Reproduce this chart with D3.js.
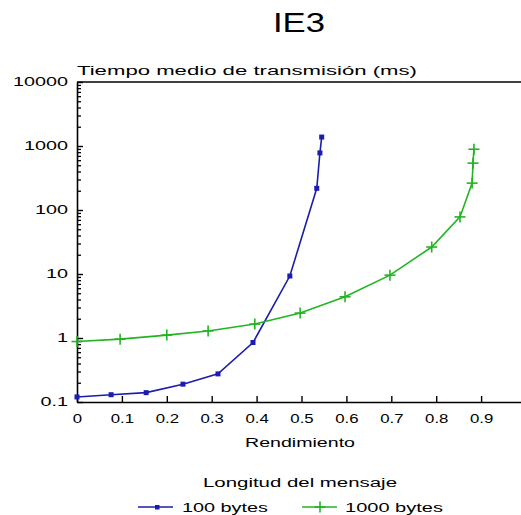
<!DOCTYPE html>
<html>
<head>
<meta charset="utf-8">
<script src="https://cdn.jsdelivr.net/npm/d3@7"></script>
<style>
  body { margin: 0; background: #fff; }
  svg { display: block; }
  text { font-family: "Liberation Sans", Arial, sans-serif; fill: #000; }
</style>
</head>
<body>
<svg id="chart" width="521" height="515"></svg>
<script>
// ---- data ----
const title = "IE3";
const yAxisTitle = "Tiempo medio de transmisión (ms)";
const xAxisTitle = "Rendimiento";
const legendTitle = "Longitud del mensaje";
const seriesNames = ["100 bytes", "1000 bytes"];
const xTicks = [0, 0.1, 0.2, 0.3, 0.4, 0.5, 0.6, 0.7, 0.8, 0.9];
const xTickLabels = ["0", "0.1", "0.2", "0.3", "0.4", "0.5", "0.6", "0.7", "0.8", "0.9"];
const yTicks = [0.1, 1, 10, 100, 1000, 10000];
const yTickLabels = ["0.1", "1", "10", "100", "1000", "10000"];
const x100 = [0, 0.076, 0.154, 0.236, 0.314, 0.392, 0.474, 0.534, 0.541, 0.545];
const y100 = [0.12, 0.13, 0.14, 0.19, 0.275, 0.85, 9.3, 218, 780, 1380];
const x1000 = [0, 0.096, 0.2, 0.292, 0.396, 0.497, 0.597, 0.697, 0.79, 0.853, 0.880, 0.882, 0.884];
const y1000 = [0.88, 0.96, 1.11, 1.29, 1.65, 2.45, 4.4, 9.6, 26.4, 78, 263, 540, 890];

// ---- layout ----
const svg = d3.select("#chart");
const mLeft = 77, mTop = 82, mBottom = 402, mRight = 526;
const x = d3.scaleLinear().domain([0, 1]).range([mLeft, mRight]);
const y = d3.scaleLog().domain([0.1, 10000]).range([mBottom, mTop]);
const blue = "#1c1cae", green = "#22b422";
const SXY = 1.65, SXX = 1.4; // horizontal stretch of the wide font

// minor y ticks
const minor = [];
for (let e = -1; e < 4; e++) for (let m = 2; m <= 9; m++) minor.push(m * Math.pow(10, e));

svg.append("g").attr("transform", `translate(${mLeft},0)`)
  .call(d3.axisLeft(y).tickValues(minor).tickSizeInner(-4).tickSizeOuter(0).tickFormat(""))
  .call(g => g.select(".domain").remove())
  .call(g => g.selectAll("line").attr("stroke-width", 1.3));

const yAx = svg.append("g").attr("transform", `translate(${mLeft},0)`)
  .call(d3.axisLeft(y).tickValues(yTicks).tickSizeInner(-6).tickSizeOuter(0).tickPadding(9)
    .tickFormat((d, i) => yTickLabels[i]));
yAx.select(".domain").attr("stroke-width", 1.6);
yAx.selectAll("line").attr("stroke-width", 1.4);
yAx.selectAll("text").attr("font-size", 12).attr("font-family", "Liberation Sans")
  .attr("x", null).attr("transform", `translate(-9,0) scale(${SXY},1)`);

const xAx = svg.append("g").attr("transform", `translate(0,${mBottom})`)
  .call(d3.axisBottom(x).tickValues(xTicks).tickSizeInner(-6).tickSizeOuter(0).tickPadding(12)
    .tickFormat((d, i) => xTickLabels[i]));
xAx.select(".domain").attr("stroke-width", 1.6);
xAx.selectAll("line").attr("stroke-width", 1.4);
xAx.selectAll("text").attr("font-size", 12).attr("font-family", "Liberation Sans")
  .attr("y", null).attr("transform", `translate(0,12) scale(${SXX},1)`);

// top frame line
svg.append("line").attr("x1", x(0)).attr("x2", x(1)).attr("y1", y(10000)).attr("y2", y(10000))
  .attr("stroke", "#000").attr("stroke-width", 1.6);

// ---- series ----
const line = d3.line().x(d => x(d[0])).y(d => y(d[1]));
const d100 = x100.map((v, i) => [v, y100[i]]);
const d1000 = x1000.map((v, i) => [v, y1000[i]]);

svg.append("path").datum(d100).attr("d", line).attr("fill", "none")
  .attr("stroke", blue).attr("stroke-width", 1.6);
svg.append("g").selectAll("rect").data(d100).join("rect")
  .attr("x", d => x(d[0]) - 2.5).attr("y", d => y(d[1]) - 2.5)
  .attr("width", 5).attr("height", 5).attr("fill", blue);

svg.append("path").datum(d1000).attr("d", line).attr("fill", "none")
  .attr("stroke", green).attr("stroke-width", 1.6);
const plus = (g, cx, cy, s) => {
  g.append("line").attr("x1", cx - s).attr("x2", cx + s).attr("y1", cy).attr("y2", cy);
  g.append("line").attr("x1", cx).attr("x2", cx).attr("y1", cy - s).attr("y2", cy + s);
};
const pg = svg.append("g").attr("stroke", green).attr("stroke-width", 1.6);
d1000.forEach(d => plus(pg, x(d[0]), y(d[1]), 5.5));

// ---- texts ----
svg.append("text").attr("x", 299).attr("y", 32).attr("text-anchor", "middle")
  .attr("font-size", 28).attr("font-family", "Lato, Roboto, 'Liberation Sans'").attr("font-weight", 300)
  .attr("textLength", 52).attr("lengthAdjust", "spacingAndGlyphs").text(title);

svg.append("text").attr("x", mLeft).attr("y", 75).attr("font-size", 12)
  .attr("textLength", 340).attr("lengthAdjust", "spacingAndGlyphs").text(yAxisTitle);

svg.append("text").attr("x", 300).attr("y", 447).attr("text-anchor", "middle").attr("font-size", 12)
  .attr("textLength", 110).attr("lengthAdjust", "spacingAndGlyphs").text(xAxisTitle);

svg.append("text").attr("x", 300).attr("y", 487).attr("text-anchor", "middle").attr("font-size", 12)
  .attr("textLength", 194).attr("lengthAdjust", "spacingAndGlyphs").text(legendTitle);

// legend
const lg = svg.append("g");
lg.append("line").attr("x1", 138).attr("x2", 173).attr("y1", 507).attr("y2", 507)
  .attr("stroke", blue).attr("stroke-width", 1.6);
lg.append("rect").attr("x", 155).attr("y", 505).attr("width", 4.5).attr("height", 4.5).attr("fill", blue);
lg.append("text").attr("x", 182).attr("y", 512).attr("font-size", 12)
  .attr("textLength", 86).attr("lengthAdjust", "spacingAndGlyphs").text(seriesNames[0]);
lg.append("line").attr("x1", 302).attr("x2", 337).attr("y1", 507).attr("y2", 507)
  .attr("stroke", green).attr("stroke-width", 1.6);
const lpg = lg.append("g").attr("stroke", green).attr("stroke-width", 1.6);
plus(lpg, 320, 507, 5.5);
lg.append("text").attr("x", 345).attr("y", 512).attr("font-size", 12)
  .attr("textLength", 98).attr("lengthAdjust", "spacingAndGlyphs").text(seriesNames[1]);
</script>
</body>
</html>
